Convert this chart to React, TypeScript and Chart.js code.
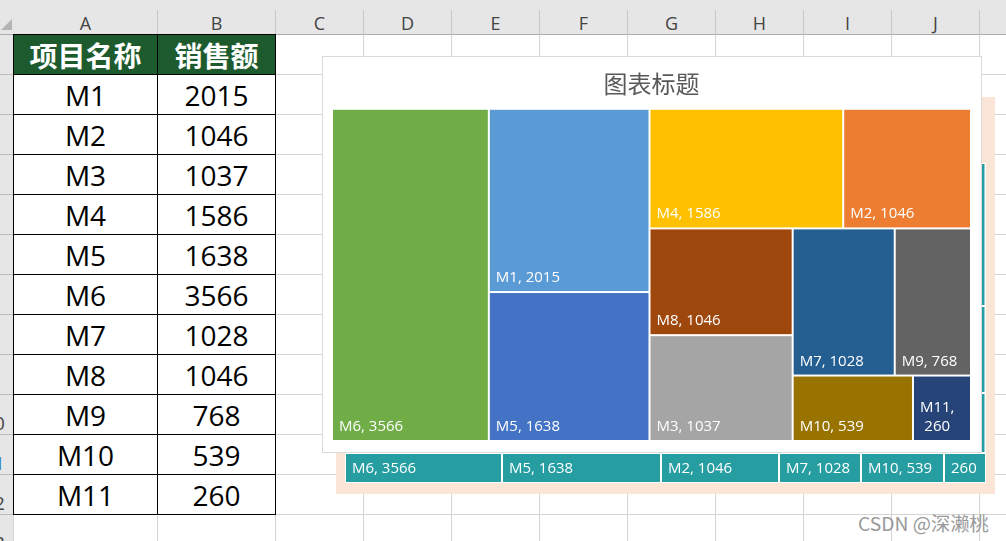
import React, { useEffect, useRef } from "react";
import { Chart, registerables } from "chart.js";

Chart.register(...registerables);

// ---------- data ----------
const itemNames = ["M1", "M2", "M3", "M4", "M5", "M6", "M7", "M8", "M9", "M10", "M11"];
const salesValues = [2015, 1046, 1037, 1586, 1638, 3566, 1028, 1046, 768, 539, 260];
const cellColors = [
  "#5B9BD5", "#ED7D31", "#A5A5A5", "#FFC000", "#4472C4", "#70AD47",
  "#255E91", "#9E480E", "#636363", "#997300", "#264478",
];
const tableHeaders = ["项目名称", "销售额"];
const chartTitle = "图表标题";
const columnLetters = ["A", "B", "C", "D", "E", "F", "G", "H", "I", "J"];
const rowNumbers = [1, 2, 3, 4, 5, 6, 7, 8, 9, 10, 11, 12, 13];

// partly hidden chart behind the treemap (only its bottom row and right edge show)
const backRowLabels = ["M6, 3566", "M5, 1638", "M2, 1046", "M7, 1028", "M10, 539", "260"];
const backRowShares = [157, 159, 118, 82, 83, 42];
const backColumnShares = [143, 87, 60];
const backRowHeight = 30;
const backColumnWidth = 60;
const backColor = "#259DA1";

const watermark = "CSDN @深濑桃";

// ---------- layout helpers ----------
type Rect = { x: number; y: number; w: number; h: number };

function worst(row: number[], side: number) {
  const s = row.reduce((a, b) => a + b, 0);
  const mx = Math.max(...row);
  const mn = Math.min(...row);
  return Math.max((side * side * mx) / (s * s), (s * s) / (side * side * mn));
}

// squarified layout; a candidate is only accepted when it clearly improves the worst aspect
const ACCEPT_FACTOR = 0.95;

function squarify(areas: number[], rect: Rect): Rect[] {
  const out: Rect[] = [];
  let r = { ...rect };
  let i = 0;
  while (i < areas.length) {
    const side = Math.min(r.w, r.h);
    const row = [areas[i]];
    let j = i + 1;
    while (j < areas.length) {
      const cand = [...row, areas[j]];
      if (worst(cand, side) < worst(row, side) * ACCEPT_FACTOR) {
        row.push(areas[j]);
        j++;
      } else break;
    }
    const sum = row.reduce((a, b) => a + b, 0);
    if (r.w >= r.h) {
      const colW = sum / r.h;
      let yy = r.y;
      for (const a of row) {
        const hh = a / colW;
        out.push({ x: r.x, y: yy, w: colW, h: hh });
        yy += hh;
      }
      r = { x: r.x + colW, y: r.y, w: r.w - colW, h: r.h };
    } else {
      const rowH = sum / r.w;
      let xx = r.x;
      for (const a of row) {
        const ww = a / rowH;
        out.push({ x: xx, y: r.y, w: ww, h: rowH });
        xx += ww;
      }
      r = { x: r.x, y: r.y + rowH, w: r.w, h: r.h - rowH };
    }
    i = j;
  }
  return out;
}

const LABEL_FONT = "15px 'Open Sans', 'Noto Sans', sans-serif";

function drawCellLabel(ctx: CanvasRenderingContext2D, text: string, left: number, right: number, bottom: number) {
  const pad = 6;
  ctx.save();
  ctx.font = LABEL_FONT;
  ctx.fillStyle = "#FFFFFF";
  ctx.textBaseline = "alphabetic";
  ctx.textAlign = "left";
  const avail = right - left - pad * 2;
  let lines = [text];
  if (ctx.measureText(text).width > avail) lines = text.split(" ");
  const widths = lines.map((l) => ctx.measureText(l).width);
  const blockW = Math.max(...widths);
  lines.forEach((l, k) => {
    const y = bottom - 9 - (lines.length - 1 - k) * 19.5;
    ctx.fillText(l, left + pad + (blockW - widths[k]) / 2, y);
  });
  ctx.restore();
}

const INSET = 1;

const frontCellsPlugin = {
  id: "frontCells",
  afterDatasetsDraw(chart: any) {
    const { ctx, chartArea, scales } = chart;
    const W = chartArea.right - chartArea.left;
    const H = chartArea.bottom - chartArea.top;
    const order = salesValues.map((_, i) => i).sort((a, b) => salesValues[b] - salesValues[a]);
    const total = salesValues.reduce((a, b) => a + b, 0);
    const areas = order.map((i) => (salesValues[i] / total) * W * H);
    const rects = squarify(areas, { x: 0, y: 0, w: W, h: H });
    rects.forEach((r, k) => {
      const i = order[k];
      const left = scales.x.getPixelForValue(r.x / W) + INSET;
      const right = scales.x.getPixelForValue((r.x + r.w) / W) - INSET;
      const top = scales.y.getPixelForValue(1 - r.y / H) + INSET;
      const bottom = scales.y.getPixelForValue(1 - (r.y + r.h) / H) - INSET;
      ctx.fillStyle = cellColors[i];
      ctx.fillRect(left, top, right - left, bottom - top);
      drawCellLabel(ctx, `${itemNames[i]}, ${salesValues[i]}`, left, right, bottom);
    });
  },
};

const backCellsPlugin = {
  id: "backCells",
  beforeDraw(chart: any) {
    const { ctx, chartArea } = chart;
    ctx.save();
    ctx.fillStyle = "#FFFFFF";
    ctx.fillRect(chartArea.left, chartArea.top, chartArea.right - chartArea.left, chartArea.bottom - chartArea.top);
    ctx.restore();
  },
  afterDatasetsDraw(chart: any) {
    const { ctx, scales } = chart;
    const xs = scales.x;
    const ys = scales.y;
    const yMax = backRowHeight + backColumnShares.reduce((a, b) => a + b, 0);
    const xMax = backRowShares.reduce((a, b) => a + b, 0);
    // right column
    let yTop = yMax;
    backColumnShares.forEach((s) => {
      const left = xs.getPixelForValue(xMax - backColumnWidth) + INSET;
      const right = xs.getPixelForValue(xMax) - INSET - 0.5;
      const top = ys.getPixelForValue(yTop) + INSET;
      const bottom = ys.getPixelForValue(yTop - s) - INSET;
      ctx.fillStyle = backColor;
      ctx.fillRect(left, top, right - left, bottom - top);
      yTop -= s;
    });
    // bottom row
    let x0 = 0;
    backRowShares.forEach((s, i) => {
      const left = xs.getPixelForValue(x0) + INSET;
      const right = xs.getPixelForValue(x0 + s) - INSET;
      const top = ys.getPixelForValue(backRowHeight) + INSET;
      const bottom = ys.getPixelForValue(0) - INSET;
      ctx.fillStyle = backColor;
      ctx.fillRect(left, top, right - left, bottom - top);
      drawCellLabel(ctx, backRowLabels[i], left, right, bottom);
      x0 += s;
    });
  },
};

// ---------- sheet geometry ----------
const colEdges = [14, 158, 276, 364, 452, 540, 628, 716, 804, 892, 980, 1068];
const HEADER_H = 35;
const ROW_H = 40;

export default function App() {
  const frontRef = useRef<HTMLCanvasElement>(null);
  const backRef = useRef<HTMLCanvasElement>(null);

  useEffect(() => {
    document.body.style.margin = "0";
    const back = new Chart(backRef.current as HTMLCanvasElement, {
      type: "scatter",
      data: { datasets: [{ data: [] }] },
      options: {
        animation: false,
        responsive: false,
        maintainAspectRatio: false,
        events: [],
        layout: { padding: { left: 9, right: 9, top: 66, bottom: 11 } },
        scales: {
          x: { type: "linear", min: 0, max: backRowShares.reduce((a, b) => a + b, 0), display: false },
          y: {
            type: "linear",
            min: 0,
            max: backRowHeight + backColumnShares.reduce((a, b) => a + b, 0),
            display: false,
          },
        },
        plugins: { legend: { display: false }, tooltip: { enabled: false }, title: { display: false } },
      },
      plugins: [backCellsPlugin],
    });
    const front = new Chart(frontRef.current as HTMLCanvasElement, {
      type: "scatter",
      data: { datasets: [{ data: [] }] },
      options: {
        animation: false,
        responsive: false,
        maintainAspectRatio: false,
        events: [],
        layout: { padding: { left: 9, right: 10, top: 0, bottom: 11 } },
        scales: {
          x: { type: "linear", min: 0, max: 1, display: false },
          y: { type: "linear", min: 0, max: 1, display: false },
        },
        plugins: {
          legend: { display: false },
          tooltip: { enabled: false },
          title: {
            display: true,
            text: chartTitle,
            color: "#595959",
            font: { family: "'Noto Sans CJK SC', sans-serif", size: 24, weight: "normal", lineHeight: 1.2 },
            padding: { top: 12, bottom: 11 },
          },
        },
      },
      plugins: [frontCellsPlugin],
    });
    return () => {
      back.destroy();
      front.destroy();
    };
  }, []);

  const abs = (l: number, t: number, w: number, h: number, extra: React.CSSProperties = {}): React.CSSProperties => ({
    position: "absolute",
    left: l,
    top: t,
    width: w,
    height: h,
    boxSizing: "border-box",
    ...extra,
  });

  const gridV = colEdges.map((x, i) => (
    <div key={"gv" + i} style={abs(x - 1, HEADER_H, 1, 541 - HEADER_H, { background: "#D4D4D4" })} />
  ));
  const gridH = rowNumbers.map((n) => (
    <div key={"gh" + n} style={abs(14, HEADER_H + n * ROW_H - 1, 1006 - 14, 1, { background: "#D4D4D4" })} />
  ));

  const colHeaders = columnLetters.map((c, i) => (
    <div
      key={"ch" + c}
      style={abs(colEdges[i], 10, colEdges[i + 1] - colEdges[i], HEADER_H - 10, {
        display: "flex",
        alignItems: "center",
        justifyContent: "center",
        fontFamily: "'Open Sans', sans-serif",
        fontSize: 18,
        color: "#444444",
        borderRight: "1px solid #C8C8C8",
      })}
    >
      {c}
    </div>
  ));

  const rowHeaders = rowNumbers.map((n) => (
    <div
      key={"rh" + n}
      style={abs(0, HEADER_H + (n - 1) * ROW_H, 14, ROW_H, {
        borderBottom: "1px solid #BDBDBD",
        overflow: "hidden",
      })}
    >
      <div
        style={{
          position: "absolute",
          left: -24,
          top: 17,
          width: 36,
          textAlign: "center",
          fontFamily: "'Open Sans', sans-serif",
          fontSize: 19,
          lineHeight: "22px",
          color: n === 11 ? "#2F75B5" : "#444444",
        }}
      >
        {n}
      </div>
    </div>
  ));

  const tableRows = [tableHeaders, ...itemNames.map((name, i) => [name, String(salesValues[i])])];
  const tableCells: React.ReactNode[] = [];
  tableRows.forEach((row, r) => {
    row.forEach((txt, c) => {
      const isHead = r === 0;
      tableCells.push(
        <div
          key={`t${r}-${c}`}
          style={abs(colEdges[c] - (c === 0 ? 1 : 0), HEADER_H + r * ROW_H - 1, colEdges[c + 1] - colEdges[c] + (c === 0 ? 1 : 0), ROW_H + 1, {
            border: "1px solid #000000",
            marginLeft: c === 0 ? 0 : -1,
            width: colEdges[c + 1] - colEdges[c] + 1,
            background: isHead ? "#1D5B2F" : "#FFFFFF",
            color: isHead ? "#FFFFFF" : "#000000",
            display: "flex",
            alignItems: "center",
            justifyContent: "center",
            fontFamily: isHead ? "'Noto Sans CJK SC', sans-serif" : "'Open Sans', sans-serif",
            fontWeight: isHead ? 700 : 400,
            fontSize: 28,
            lineHeight: "38px",
          })}
        >
          {txt}
        </div>
      );
    });
  });

  return (
    <div
      style={{
        position: "fixed",
        left: 0,
        top: 0,
        width: 1006,
        height: 541,
        overflow: "hidden",
        background: "#FFFFFF",
      }}
    >
      {/* column header band */}
      <div style={abs(0, 0, 1006, HEADER_H, { background: "#E6E6E6", borderBottom: "1px solid #ABABAB" })} />
      {colHeaders}
      {/* select-all corner */}
      <div
        style={{
          position: "absolute",
          left: 1,
          top: 19,
          width: 0,
          height: 0,
          borderLeft: "11px solid transparent",
          borderBottom: "11px solid #B4B4B4",
        }}
      />
      {/* row header */}
      <div style={abs(0, HEADER_H, 14, 541 - HEADER_H, { background: "#E6E6E6", borderRight: "1px solid #9E9E9E" })} />
      {rowHeaders}
      {gridV}
      {gridH}
      {tableCells}

      {/* chart behind */}
      <canvas
        ref={backRef}
        width={659}
        height={397}
        style={{ position: "absolute", left: 336, top: 97, width: 659, height: 397, background: "#FBE5D6", display: "block" }}
      />

      {/* treemap chart */}
      <div style={abs(322, 56, 660, 397, { border: "1px solid #D9D9D9", background: "#FFFFFF" })}>
        <canvas ref={frontRef} width={658} height={395} style={{ display: "block", width: 658, height: 395 }} />
      </div>

      <div
        style={{
          position: "absolute",
          left: 858,
          top: 509,
          fontFamily: "'Noto Sans CJK SC', sans-serif",
          fontSize: 19.3,
          color: "#9A9A9A",
          whiteSpace: "nowrap",
        }}
      >
        {watermark}
      </div>
    </div>
  );
}
